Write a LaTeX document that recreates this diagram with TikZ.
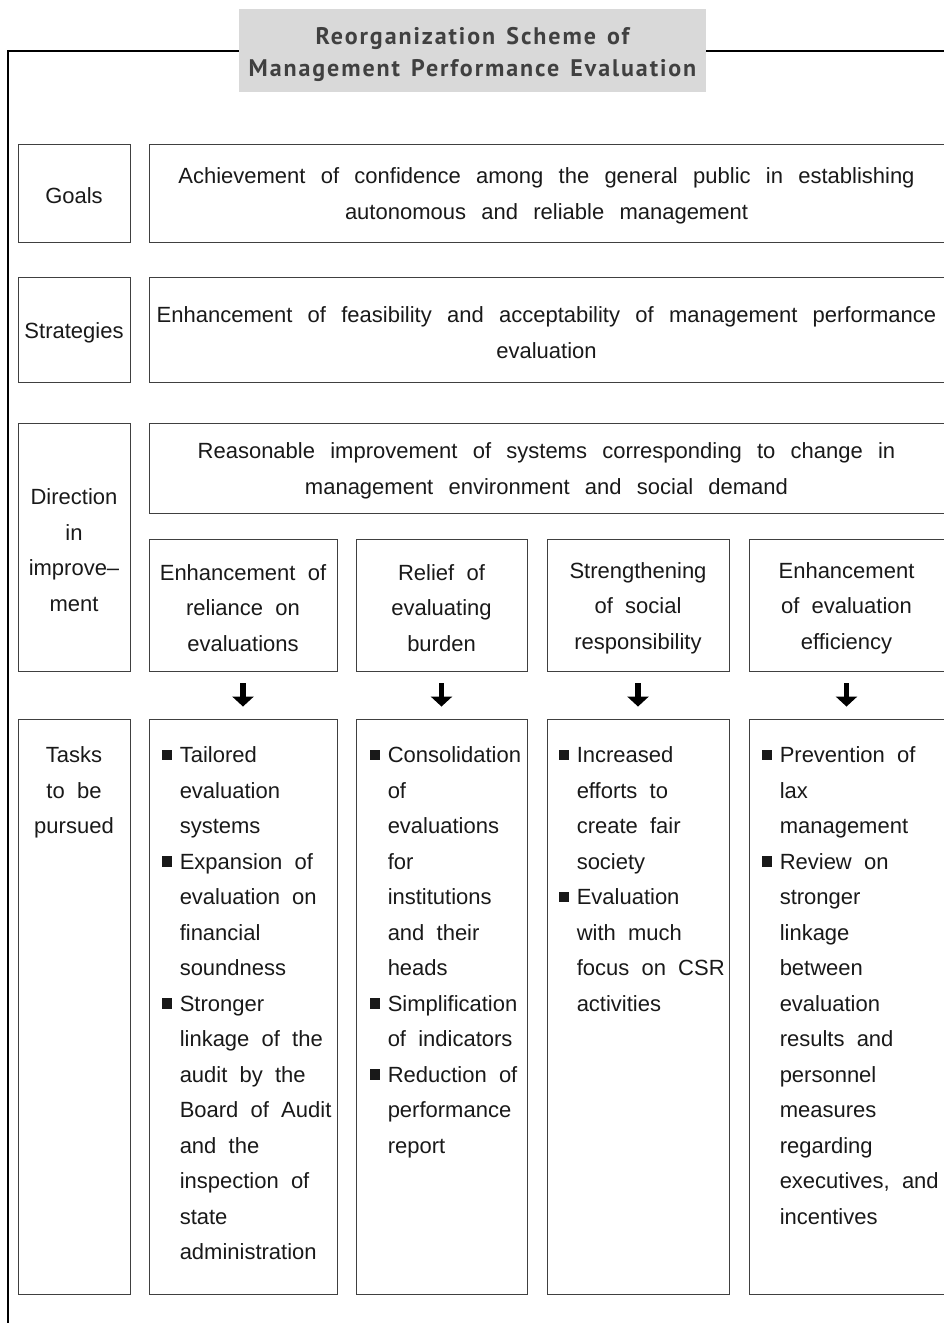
\documentclass[tikz,border=0pt]{standalone}
\usepackage{fontspec}
\setmainfont{Liberation Sans}[WordSpace=2]
\newfontfamily\widefont{Liberation Sans}[WordSpace=2.5]
\newfontfamily\headfont{PT Sans}[WordSpace=1.4, LetterSpace=8]
\usepackage{tikz}
\usetikzlibrary{arrows.meta, positioning, calc}

\newcommand{\sqb}{\strut\makebox[18pt][l]{\rule[2.5pt]{10.5pt}{10.5pt}}}
\newcommand{\cnt}{\hspace*{18pt}}

\begin{document}
\begin{tikzpicture}[
  x=1pt, y=-1pt,
  box/.style={rectangle, draw=black!75, line width=0.9pt, inner sep=0pt},
  txt/.style={font=\fontsize{22}{35.5}\selectfont, align=center,
    inner sep=0pt, text=black!90},
  widetxt/.style={txt, font=\widefont\fontsize{22}{35.5}\selectfont},
  tasktxt/.style={font=\fontsize{22}{35.5}\selectfont, align=left,
    inner sep=0pt, anchor=north west, text=black!90},
  headbox/.style={rectangle, fill=black!15, inner sep=0pt,
    minimum width=467pt, minimum height=83pt},
  headtxt/.style={align=center, inner sep=0pt, text=black!75,
    font=\headfont\bfseries\fontsize{24}{32}\selectfont},
  frame/.style={line width=2pt, black},
  downarr/.style={-{Triangle[width=21pt, length=10pt]}, line width=5.5pt,
    black},
]
\useasboundingbox (0,0) rectangle (943,1323);

% outer frame and heading
\draw[frame] (946,50.5) -- (8,50.5) -- (8,1330);
\node[headbox] (head) at (472.5,50.5) {};
\node[headtxt] (headtxt) at ([yshift=-3.5pt]head.center)
  {Reorganization Scheme of\\Management Performance Evaluation};

% left column
\node[box, minimum width=112pt, minimum height=98pt] (goalL) at (74,193) {};
\node[box, minimum width=112pt, minimum height=105pt] (stratL) at (74,329.5) {};
\node[box, minimum width=112pt, minimum height=248pt] (dirL) at (74,547) {};
\node[box, minimum width=112pt, minimum height=575pt] (taskL) at (74,1006.5) {};
\node[txt] (goalLtxt) at ([yshift=-3pt]goalL.center) {Goals};
\node[txt] (stratLtxt) at ([yshift=-3pt]stratL.center) {Strategies};
\node[txt] (dirLtxt) at ([yshift=-3pt]dirL.center)
  {Direction\\in\\improve–\\ment};
\node[txt, anchor=north] (taskLtxt) at ([yshift=-19.15pt]taskL.north)
  {\strut Tasks\\ to be\\pursued};

% wide boxes
\node[box, minimum width=795pt, minimum height=98pt] (goalR) at (546.5,193) {};
\node[box, minimum width=795pt, minimum height=105pt] (stratR) at (546.5,329.5) {};
\node[box, minimum width=795pt, minimum height=90pt] (dirR) at (546.5,468) {};
\node[widetxt] (goalRtxt) at ([yshift=-3pt]goalR.center)
  {Achievement of confidence among the general public in establishing\\
   autonomous and reliable management};
\node[widetxt] (stratRtxt) at ([yshift=-3pt]stratR.center)
  {Enhancement of feasibility and acceptability of management performance\\
   evaluation};
\node[widetxt] (dirRtxt) at ([yshift=-3pt]dirR.center)
  {Reasonable improvement of systems corresponding to change in\\
   management environment and social demand};

% directions and task boxes
\foreach \i/\cx/\bw/\lbl in {
  1/243/188/{Enhancement of\\reliance on\\evaluations},
  2/441.5/171/{Relief of\\evaluating\\burden},
  3/638/182/{Strengthening\\of social\\responsibility},
  4/846.5/195/{Enhancement\\of evaluation\\efficiency}}{
  \node[box, minimum width=\bw pt, minimum height=132pt]
    (d\i) at (\cx,605) {};
  \node[txt] (d\i txt) at ([yshift=-3pt]d\i.center) {\lbl};
  \node[box, minimum width=\bw pt, minimum height=575pt]
    (t\i) at (\cx,1006.5) {};
  \draw[downarr] ([yshift=-12pt]d\i.south) -- ([yshift=12pt]t\i.north);
}

% task lists
\node[tasktxt] (t1txt) at ([xshift=13pt,yshift=-19.15pt]t1.north west)
  {\sqb Tailored\\ \cnt evaluation\\ \cnt systems\\
   \sqb Expansion of\\ \cnt evaluation on\\ \cnt financial\\ \cnt soundness\\
   \sqb Stronger\\ \cnt linkage of the\\ \cnt audit by the\\
   \cnt Board of Audit\\ \cnt and the\\ \cnt inspection of\\ \cnt state\\
   \cnt administration};
\node[tasktxt] (t2txt) at ([xshift=14pt,yshift=-19.15pt]t2.north west)
  {\sqb Consolidation\\ \cnt of\\ \cnt evaluations\\ \cnt for\\
   \cnt institutions\\ \cnt and their\\ \cnt heads\\
   \sqb Simplification\\ \cnt of indicators\\
   \sqb Reduction of\\ \cnt performance\\ \cnt report};
\node[tasktxt] (t3txt) at ([xshift=12pt,yshift=-19.15pt]t3.north west)
  {\sqb Increased\\ \cnt efforts to\\ \cnt create fair\\ \cnt society\\
   \sqb Evaluation\\ \cnt with much\\ \cnt focus on CSR\\ \cnt activities};
\node[tasktxt] (t4txt) at ([xshift=13pt,yshift=-19.15pt]t4.north west)
  {\sqb Prevention of\\ \cnt lax\\ \cnt management\\
   \sqb Review on\\ \cnt stronger\\ \cnt linkage\\ \cnt between\\
   \cnt evaluation\\ \cnt results and\\ \cnt personnel\\ \cnt measures\\
   \cnt regarding\\ \cnt executives, and\\ \cnt incentives};

\end{tikzpicture}
\end{document}
